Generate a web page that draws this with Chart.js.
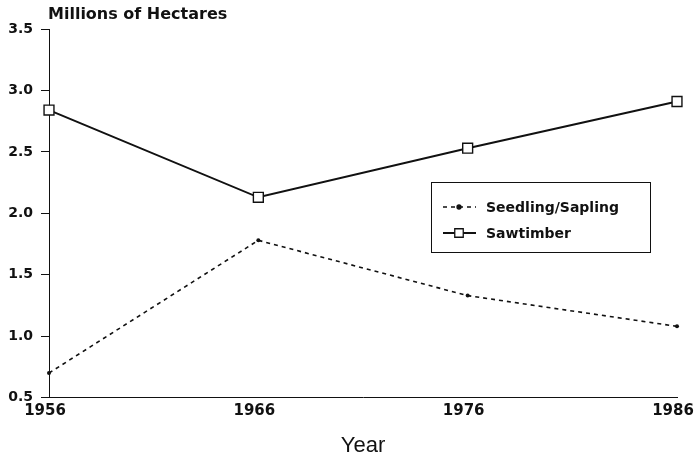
<!DOCTYPE html>
<html lang="en">
<head>
    <meta charset="UTF-8">
    <title>Millions of Hectares by Year</title>
    <style>
        html, body { margin: 0; padding: 0; background: #fff; }
        #wrap { width: 698px; height: 459px; }
    </style>
</head>
<body>
    <div id="wrap"><canvas id="myChart" width="698" height="459"></canvas></div>

    <script src="https://cdn.jsdelivr.net/npm/chart.js@4.4.0/dist/chart.umd.min.js"></script>
    <script>
        // data
        var years = ['1956', '1966', '1976', '1986'];
        var seedlingSapling = [0.70, 1.78, 1.33, 1.08];
        var sawtimber = [2.84, 2.13, 2.53, 2.91];
        var yTicks = [0.5, 1.0, 1.5, 2.0, 2.5, 3.0, 3.5];

        var ink = '#111';

        // title drawn flush with the y axis
        var titlePlugin = {
            id: 'cornerTitle',
            afterDraw: function (chart) {
                var ctx = chart.ctx;
                ctx.save();
                ctx.fillStyle = ink;
                ctx.font = 'bold 16px "DejaVu Sans"';
                ctx.textBaseline = 'alphabetic';
                ctx.fillText('Millions of Hectares', chart.chartArea.left - 1, 19);
                ctx.restore();
            }
        };

        // boxed legend inside the plot area
        var boxLegend = {
            id: 'boxLegend',
            afterDraw: function (chart) {
                var ctx = chart.ctx;
                var a = chart.chartArea;
                var x0 = a.left + 382, y0 = a.top + 153, w = 219, h = 70;
                ctx.save();
                ctx.strokeStyle = ink;
                ctx.lineWidth = 1;
                ctx.strokeRect(x0 + 0.5, y0 + 0.5, w, h);
                ctx.font = 'bold 14px "DejaVu Sans"';
                ctx.textBaseline = 'middle';
                chart.data.datasets.forEach(function (ds, i) {
                    var y = y0 + 25 + i * 26;
                    ctx.strokeStyle = ink;
                    ctx.lineWidth = ds.borderWidth;
                    ctx.setLineDash(ds.borderDash || []);
                    ctx.beginPath();
                    ctx.moveTo(x0 + 12, y);
                    ctx.lineTo(x0 + 45, y);
                    ctx.stroke();
                    ctx.setLineDash([]);
                    ctx.lineWidth = 1.3;
                    ctx.fillStyle = ds.pointStyle === 'rect' ? '#fff' : ink;
                    Chart.helpers.drawPoint(ctx, {
                        pointStyle: ds.pointStyle,
                        radius: ds.pointStyle === 'rect' ? 6 : 2,
                        borderWidth: 1.3
                    }, x0 + 28, y);
                    ctx.fillStyle = ink;
                    ctx.fillText(ds.label, x0 + 55, y + 1);
                });
                ctx.restore();
            }
        };

        var ctx = document.getElementById('myChart').getContext('2d');
        var myChart = new Chart(ctx, {
            type: 'line',
            data: {
                labels: years,
                datasets: [
                    {
                        label: 'Seedling/Sapling',
                        data: seedlingSapling,
                        borderColor: ink,
                        backgroundColor: ink,
                        borderWidth: 1.6,
                        borderDash: [4, 4],
                        pointStyle: 'circle',
                        pointRadius: 2,
                        pointBorderWidth: 0,
                        tension: 0
                    },
                    {
                        label: 'Sawtimber',
                        data: sawtimber,
                        borderColor: ink,
                        backgroundColor: '#fff',
                        borderWidth: 2,
                        pointStyle: 'rect',
                        pointRadius: 7,
                        pointBorderWidth: 1.4,
                        tension: 0
                    }
                ]
            },
            options: {
                responsive: false,
                animation: false,
                layout: { padding: { top: 29, right: 0, left: 0, bottom: 0 } },
                plugins: {
                    legend: { display: false },
                    title: { display: false },
                    tooltip: { enabled: false }
                },
                scales: {
                    x: {
                        type: 'category',
                        offset: false,
                        afterFit: function (scale) { scale.paddingRight = 21; },
                        border: { display: true, color: ink, width: 1 },
                        grid: { drawOnChartArea: false, drawTicks: false },
                        ticks: {
                            color: ink,
                            padding: 5,
                            labelOffset: -4,
                            maxRotation: 0,
                            font: { family: 'DejaVu Sans', weight: 'bold', size: 15 }
                        },
                        title: {
                            display: true,
                            text: 'Year',
                            color: ink,
                            padding: { top: 7, bottom: 0 },
                            font: { family: 'Liberation Sans', size: 22 }
                        }
                    },
                    y: {
                        min: 0.5,
                        max: 3.5,
                        afterBuildTicks: function (scale) {
                            scale.ticks = yTicks.map(function (v) { return { value: v }; });
                        },
                        afterFit: function (scale) { scale.width = 49; },
                        border: { display: true, color: ink, width: 1 },
                        grid: { drawOnChartArea: false, tickLength: 8, color: ink },
                        ticks: {
                            color: ink,
                            padding: 8,
                            font: { family: 'DejaVu Sans', weight: 'bold', size: 14 },
                            callback: function (v) { return v.toFixed(1); }
                        }
                    }
                }
            },
            plugins: [titlePlugin, boxLegend]
        });
    </script>
</body>
</html>
